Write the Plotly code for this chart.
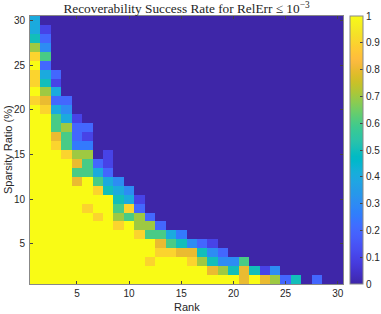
import plotly.graph_objects as go

# Rank (x) and sparsity ratio % (y)
ranks = list(range(1, 31))
sparsity = list(range(1, 31))

# success rate rows, sparsity 1% .. 30% (each row: rank 1..30)
s01 = [1]*20 + [0.8, 1, 0.8, 0.7, 0.2, 0.5, 0, 0.2, 0, 0]
s02 = [1]*17 + [0.8, 0.7, 0.5, 0.8, 0.5, 0.1, 0.3] + [0]*6
s03 = [1]*11 + [0.9, 1, 1, 1, 0.9, 0.7, 0.5, 0.3, 0.3, 0.6] + [0]*9
s04 = [1]*12 + [0.9, 0.9, 0.8, 0.8, 0.5, 0.3, 0.2] + [0]*11
s05 = [1]*12 + [0.8, 0.6, 0.5, 0.3, 0.2, 0.1] + [0]*12
s06 = [1]*10 + [0.9, 0.6, 0.6, 0.4, 0.25] + [0]*15
s07 = [1]*8 + [0.9, 1, 0.7, 0.7, 0.2] + [0]*17
s08 = [1]*6 + [0.9, 1, 0.7, 0.6, 0.7, 0.2] + [0]*18
s09 = [1]*5 + [0.9, 1, 1, 0.6, 0.9, 0.2] + [0]*19
s10 = [1]*8 + [0.5, 0.4, 0.1] + [0]*19
s11 = [1]*6 + [0.9, 0.5, 0.4, 0.3] + [0]*20
s12 = [1]*4 + [0.8, 1, 0.6, 0.4, 0.3] + [0]*21
s13 = [1]*4 + [0.6, 0.6, 0.4, 0.2] + [0]*22
s14 = [1]*4 + [0.8, 0.6, 0.2, 0.1] + [0]*22
s15 = [1]*3 + [0.9, 0.7, 0.7, 0, 0.1] + [0]*22
s16 = [1]*2 + [0.9, 0.6, 0.25, 0.25] + [0]*24
s17 = [1]*2 + [0.8, 0.6, 0.2, 0.1] + [0]*24
s18 = [1]*2 + [0.6, 0.7, 0.2, 0.2] + [0]*24
s19 = [1]*2 + [0.6, 0.4, 0.1] + [0]*25
s20 = [1, 0.9, 0.4, 0.3] + [0]*26
s21 = [0.9, 0.8, 0.2, 0.2] + [0]*26
s22 = [1, 0.7, 0.4] + [0]*27
s23 = [0.9, 0.5, 0.1] + [0]*27
s24 = [0.9, 0.4, 0.2] + [0]*27
s25 = [1, 0.2] + [0]*28
s26 = [0.9, 0.6] + [0]*28
s27 = [0.7, 0.3] + [0]*28
s28 = [0.5, 0.2] + [0]*28
s29 = [0.4, 0.1] + [0]*28
s30 = [0.4] + [0]*29

success = [s01, s02, s03, s04, s05, s06, s07, s08, s09, s10,
           s11, s12, s13, s14, s15, s16, s17, s18, s19, s20,
           s21, s22, s23, s24, s25, s26, s27, s28, s29, s30]

tick_vals = [5, 10, 15, 20, 25, 30]
cbar_ticks = [0, 0.1, 0.2, 0.3, 0.4, 0.5, 0.6, 0.7, 0.8, 0.9, 1]

parula = [
    (0.2422, 0.1504, 0.6603), (0.2504, 0.1650, 0.7076), (0.2578, 0.1818, 0.7511),
    (0.2647, 0.1978, 0.7952), (0.2706, 0.2147, 0.8364), (0.2751, 0.2342, 0.8710),
    (0.2783, 0.2559, 0.8991), (0.2803, 0.2782, 0.9221), (0.2813, 0.3006, 0.9414),
    (0.2810, 0.3228, 0.9579), (0.2795, 0.3447, 0.9717), (0.2760, 0.3667, 0.9829),
    (0.2699, 0.3892, 0.9906), (0.2602, 0.4123, 0.9952), (0.2440, 0.4358, 0.9988),
    (0.2206, 0.4603, 0.9973), (0.1963, 0.4847, 0.9892), (0.1834, 0.5074, 0.9798),
    (0.1786, 0.5289, 0.9682), (0.1764, 0.5499, 0.9520), (0.1687, 0.5703, 0.9359),
    (0.1540, 0.5902, 0.9218), (0.1460, 0.6091, 0.9079), (0.1380, 0.6276, 0.8973),
    (0.1248, 0.6459, 0.8883), (0.1113, 0.6635, 0.8763), (0.0952, 0.6798, 0.8598),
    (0.0689, 0.6948, 0.8394), (0.0297, 0.7082, 0.8163), (0.0036, 0.7203, 0.7917),
    (0.0067, 0.7312, 0.7660), (0.0433, 0.7411, 0.7394), (0.0964, 0.7500, 0.7120),
    (0.1408, 0.7584, 0.6842), (0.1717, 0.7670, 0.6554), (0.1938, 0.7758, 0.6251),
    (0.2161, 0.7843, 0.5923), (0.2470, 0.7918, 0.5567), (0.2906, 0.7973, 0.5188),
    (0.3406, 0.8008, 0.4789), (0.3909, 0.8029, 0.4354), (0.4456, 0.8024, 0.3909),
    (0.5044, 0.7993, 0.3480), (0.5616, 0.7942, 0.3045), (0.6174, 0.7876, 0.2612),
    (0.6720, 0.7793, 0.2227), (0.7242, 0.7698, 0.1910), (0.7738, 0.7598, 0.1646),
    (0.8203, 0.7498, 0.1535), (0.8634, 0.7406, 0.1596), (0.9035, 0.7330, 0.1774),
    (0.9393, 0.7288, 0.2100), (0.9728, 0.7298, 0.2394), (0.9956, 0.7434, 0.2371),
    (0.9970, 0.7659, 0.2199), (0.9952, 0.7893, 0.2028), (0.9892, 0.8136, 0.1885),
    (0.9786, 0.8386, 0.1766), (0.9676, 0.8639, 0.1643), (0.9610, 0.8890, 0.1537),
    (0.9597, 0.9135, 0.1423), (0.9628, 0.9373, 0.1265), (0.9691, 0.9606, 0.1064),
    (0.9769, 0.9839, 0.0805),
]
n = len(parula)
colorscale = [[i / (n - 1), "rgb(%d,%d,%d)" % tuple(round(c * 255) for c in col)]
              for i, col in enumerate(parula)]

W, H = 381, 314
L, R, T, B = 30, 38, 16, 30
PW, PH = W - L - R, H - T - B
SANS = "Liberation Sans, Arial, sans-serif"
TXT = "#262626"

fig = go.Figure(go.Heatmap(
    x=ranks, y=sparsity, z=success,
    colorscale=colorscale, zmin=0, zmax=1,
    colorbar=dict(
        x=(350 - L) / PW, xanchor="left", xpad=0,
        y=0, yanchor="bottom", len=1, lenmode="fraction", ypad=0,
        thickness=13, thicknessmode="pixels",
        outlinecolor="#888888", outlinewidth=1,
        tickvals=cbar_ticks, ticktext=[("%g" % v) for v in cbar_ticks],
        ticks="inside", ticklen=3, tickcolor="#444444",
        tickfont=dict(family=SANS, size=10, color=TXT),
    ),
))

axis_common = dict(
    showgrid=False, zeroline=False, showline=True, linecolor="#888888", linewidth=1,
    mirror="ticks", ticks="inside", ticklen=3, tickcolor="#444444",
    tickfont=dict(family=SANS, size=10, color=TXT),
    tickvals=tick_vals, automargin=False,
)

fig.update_layout(
    width=W, height=H,
    margin=dict(l=L, r=R, t=T, b=B, pad=0, autoexpand=False),
    paper_bgcolor="white", plot_bgcolor="white",
    title=dict(
        text="Recoverability Success Rate for RelErr ≤ 10<sup>−3</sup>",
        x=(L + PW / 2) / W, xanchor="center", y=1 - 8.5 / H, yanchor="middle",
        font=dict(family="Liberation Serif, Times New Roman, serif", size=13.3, color=TXT),
    ),
    xaxis=dict(axis_common, range=[0.5, 30.5], ticklabelstandoff=0),
    yaxis=dict(axis_common, range=[0.5, 30.5], ticklabelstandoff=2),
    annotations=[
        dict(text="Rank", xref="paper", yref="paper",
             x=0.5, y=-(307 - (T + PH)) / PH, xanchor="center", yanchor="middle",
             showarrow=False, font=dict(family=SANS, size=11, color=TXT)),
        dict(text="Sparsity Ratio (%)", xref="paper", yref="paper",
             x=-(L - 8) / PW, y=0.5, xanchor="center", yanchor="middle",
             textangle=-90, showarrow=False, font=dict(family=SANS, size=11, color=TXT)),
    ],
)

fig.write_html(
    "out.html",
    config={"displayModeBar": False},
    post_script="document.body.style.margin='0';document.body.style.overflow='hidden';",
)
